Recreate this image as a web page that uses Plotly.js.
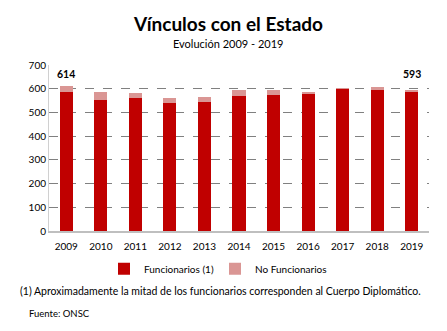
<!DOCTYPE html>
<html><head><meta charset="utf-8">
<script src="https://cdn.plot.ly/plotly-3.0.1.min.js"></script>
<style>body{margin:0;background:#fff}#c{width:447px;height:331px}</style>
</head><body><div id="c"></div>
<script>
const years = ['2009','2010','2011','2012','2013','2014','2015','2016','2017','2018','2019'];
const funcionarios = [587,553,563,542,545,572,575,579,600,599,587];
const noFuncionarios = [27,34,19,18,20,24,21,5,1,8,6];
const labelYears = ['2009','2019'];
const labelValues = [614,593];
const F = 'Lato, Carlito, sans-serif';
const M = {l:49, r:18, t:65, b:100};
const plotW = 447 - M.l - M.r;
const plotH = 331 - M.t - M.b;
const yMax = 701;
const px = p => (p - M.l) / plotW;
const data = [
 {type:'bar', name:'Funcionarios (1)', x:years, y:funcionarios, marker:{color:'#C00000'}, legend:'legend'},
 {type:'bar', name:'No Funcionarios', x:years, y:noFuncionarios, marker:{color:'#DA9694'}, legend:'legend2'}
];
const legBase = {orientation:'h', y:-0.14, yanchor:'top', xanchor:'left', font:{size:10}, itemwidth:30, bgcolor:'rgba(0,0,0,0)'};
const layout = {
 width:447, height:331, barmode:'stack', bargap:0.62,
 margin:M,
 paper_bgcolor:'#fff', plot_bgcolor:'#fff',
 font:{family:F, size:10, color:'#000'},
 showlegend:true,
 legend:Object.assign({}, legBase, {x:px(104)}),
 legend2:Object.assign({}, legBase, {x:px(215)}),
 xaxis:{type:'category', categoryorder:'array', categoryarray:years, range:[-0.5, years.length-0.5], showline:true, linecolor:'#BFBFBF', linewidth:2, ticks:'', tickfont:{size:10}, ticklabelstandoff:5},
 yaxis:{range:[0,yMax], dtick:100, showgrid:true, gridcolor:'#808080', griddash:'dash', gridwidth:1, zeroline:false, ticks:'', tickfont:{size:10}, showline:true, linecolor:'#D0D0D0', linewidth:1},
 annotations:[
  {text:'<b>Vínculos con el Estado</b>', xref:'paper', yref:'paper', x:px(228), y:1, yshift:42, yanchor:'middle', showarrow:false, font:{size:19}, xanchor:'center'},
  {text:'Evolución 2009 - 2019', xref:'paper', yref:'paper', x:px(228), y:1, yshift:22, yanchor:'middle', showarrow:false, font:{size:11}, xanchor:'center'},
  {text:'(1) Aproximadamente la mitad de los funcionarios corresponden al Cuerpo Diplomático.', xref:'paper', yref:'paper', x:0, xshift:-31, y:0, yshift:-68, showarrow:false, font:{size:10.5}, xanchor:'left'},
  {text:'Fuente: ONSC', xref:'paper', yref:'paper', x:0, xshift:-22, y:0, yshift:-90, showarrow:false, font:{size:9.5}, xanchor:'left'}
 ]
};
labelYears.forEach((yr,i)=>{
 const v = labelValues[i];
 layout.annotations.push({xref:'x', yref:'y', x:years.indexOf(yr), y:v, text:'<b>'+v+'</b>', showarrow:false, yanchor:'middle', yshift:(662 - v) * plotH / yMax, font:{size:10.5}});
});
Plotly.newPlot('c', data, layout, {displayModeBar:false});
</script></body></html>
